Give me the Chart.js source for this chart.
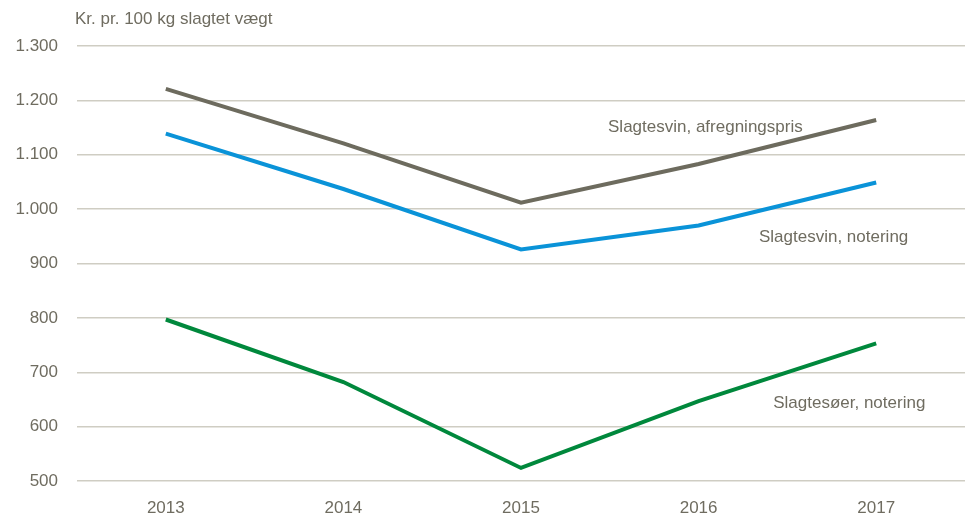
<!DOCTYPE html>
<html>
<head>
<meta charset="utf-8">
<script src="https://cdn.jsdelivr.net/npm/chart.js@4"></script>
<style>
  html, body { margin: 0; padding: 0; background: #fff; }
  #wrap { width: 965px; height: 517px; position: relative; }
</style>
</head>
<body>
<div id="wrap"><canvas id="chart"></canvas></div>
<script>
// Data
const years = ["2013", "2014", "2015", "2016", "2017"];
const afregningspris = [1221, 1121, 1012, 1083, 1164];
const svinNotering = [1139, 1037, 926, 970, 1049];
const soeerNotering = [797, 682, 524, 647, 753];
const yTicks = [500, 600, 700, 800, 900, 1000, 1100, 1200, 1300];

const FONT = "'Liberation Sans Narrow', 'Arial Narrow', 'Liberation Sans', sans-serif";
const TEXT = '#6f6c60';

// Danish thousand separator
const fmt = v => String(v).replace(/\B(?=(\d{3})+(?!\d))/g, ".");

// Title and line labels drawn in data space
const labelPlugin = {
    id: 'labels',
    afterDraw(chart) {
        const ctx = chart.ctx;
        const x = chart.scales.x, y = chart.scales.y;
        ctx.save();
        ctx.fillStyle = TEXT;
        ctx.font = "17px " + FONT;
        ctx.textBaseline = 'middle';
        ctx.textAlign = 'left';
        ctx.fillText("Kr. pr. 100 kg slagtet vægt", 75, 19);
        const labels = [
            ["Slagtesvin, afregningspris", 2.49, 1150],
            ["Slagtesvin, notering", 3.34, 948],
            ["Slagtesøer, notering", 3.42, 643]
        ];
        labels.forEach(([t, xi, yv]) => {
            const px = x.getPixelForValue(0) + xi * (x.getPixelForValue(1) - x.getPixelForValue(0));
            ctx.fillText(t, px, y.getPixelForValue(yv));
        });
        ctx.restore();
    }
};

const ds = (label, data, color) => ({
    label, data,
    borderColor: color,
    backgroundColor: color,
    borderWidth: 4,
    pointRadius: 0,
    tension: 0
});

new Chart(document.getElementById("chart"), {
    type: 'line',
    data: {
        labels: years,
        datasets: [
            ds("Slagtesvin, afregningspris", afregningspris, '#6d6b5e'),
            ds("Slagtesvin, notering", svinNotering, '#0a93d8'),
            ds("Slagtesøer, notering", soeerNotering, '#00883c')
        ]
    },
    options: {
        responsive: true,
        maintainAspectRatio: false,
        animation: false,
        layout: { padding: { top: 46, right: 0, bottom: 0, left: 0 } },
        plugins: {
            legend: { display: false },
            tooltip: { enabled: false }
        },
        scales: {
            x: {
                offset: true,
                grid: { display: false, drawTicks: false },
                border: { display: false },
                ticks: { color: TEXT, font: { family: FONT, size: 17 }, padding: 17 },
                afterFit(scale) { scale.height = 36; }
            },
            y: {
                min: 500,
                max: 1300,
                afterBuildTicks(scale) { scale.ticks = yTicks.map(v => ({ value: v })); },
                grid: { color: '#cfcdc3', lineWidth: 1.5, drawTicks: false },
                border: { display: false },
                ticks: { color: TEXT, font: { family: FONT, size: 17 }, padding: 19, callback: v => fmt(v) },
                afterFit(scale) { scale.width = 77; }
            }
        }
    },
    plugins: [labelPlugin]
});
</script>
</body>
</html>
